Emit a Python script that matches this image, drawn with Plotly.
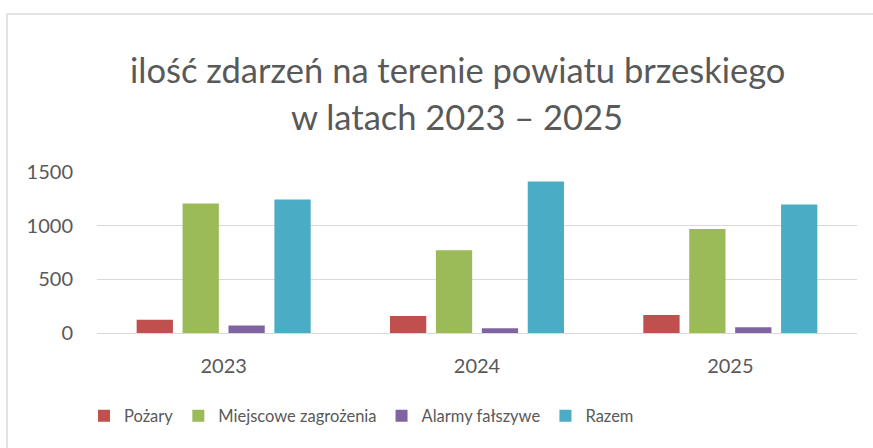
import plotly.graph_objects as go

years = ["2023", "2024", "2025"]
series_names = ["Pożary", "Miejscowe zagrożenia", "Alarmy fałszywe", "Razem"]
pozary = [124, 158, 167]
miejscowe = [1206, 772, 970]
alarmy = [71, 44, 53]
razem = [1243, 1411, 1197]
y_ticks = [0, 500, 1000, 1500]

colors = ["#C0504D", "#9BBB59", "#8064A2", "#4BACC6"]
values = [pozary, miejscowe, alarmy, razem]

W, H = 873, 448
ml, mr, mt, mb = 97, 16, 172, 115
pw, ph = W - ml - mr, H - mt - mb

def px_x(x):
    return (x - ml) / pw

def px_y(y):
    return (H - mb - y) / ph

font = "Lato, 'Open Sans', sans-serif"
grey = "#595959"

fig = go.Figure()
for name, vals, c in zip(series_names, values, colors):
    fig.add_trace(go.Bar(x=years, y=vals, name=name, marker=dict(color=c, line=dict(width=0))))

fig.update_layout(
    width=W, height=H,
    margin=dict(l=ml, r=mr, t=mt, b=mb, pad=0),
    paper_bgcolor="white", plot_bgcolor="white",
    barmode="group", bargap=0.275, bargroupgap=0.21,
    font=dict(family=font, color=grey, size=20),
    showlegend=True,
    legend=dict(orientation="h", x=px_x(84), xanchor="left", y=px_y(416), yanchor="middle",
                font=dict(size=16.5, color=grey), itemwidth=30, tracegroupgap=0,
                bgcolor="rgba(0,0,0,0)"),
    xaxis=dict(showgrid=False, showline=False, ticks="", ticklabelstandoff=19,
               tickfont=dict(size=20, color=grey)),
    yaxis=dict(range=[0, 1500], tickvals=y_ticks, showgrid=True, gridcolor="#D9D9D9",
               gridwidth=1, zeroline=True, zerolinecolor="#D9D9D9", zerolinewidth=1,
               showline=False, ticks="", ticklabelstandoff=23,
               tickfont=dict(size=20, color=grey)),
    annotations=[
        dict(text="ilość zdarzeń na terenie powiatu brzeskiego", xref="paper", yref="paper",
             x=px_x(457), y=px_y(69), xanchor="center", yanchor="middle", showarrow=False,
             font=dict(size=34.5, color=grey, family=font)),
        dict(text="w latach 2023 – 2025", xref="paper", yref="paper",
             x=px_x(457), y=px_y(116), xanchor="center", yanchor="middle", showarrow=False,
             font=dict(size=34.5, color=grey, family=font)),
    ],
    shapes=[
        dict(type="line", xref="paper", yref="paper", x0=px_x(7), x1=px_x(W + 5),
             y0=px_y(14), y1=px_y(14), line=dict(color="#D9D9D9", width=1.5)),
        dict(type="line", xref="paper", yref="paper", x0=px_x(7), x1=px_x(7),
             y0=px_y(14), y1=px_y(H + 5), line=dict(color="#D9D9D9", width=1.5)),
    ],
)

fig.write_html("out.html", config={"displayModeBar": False},
               post_script="document.body.style.margin='0';document.body.style.overflow='hidden';")
